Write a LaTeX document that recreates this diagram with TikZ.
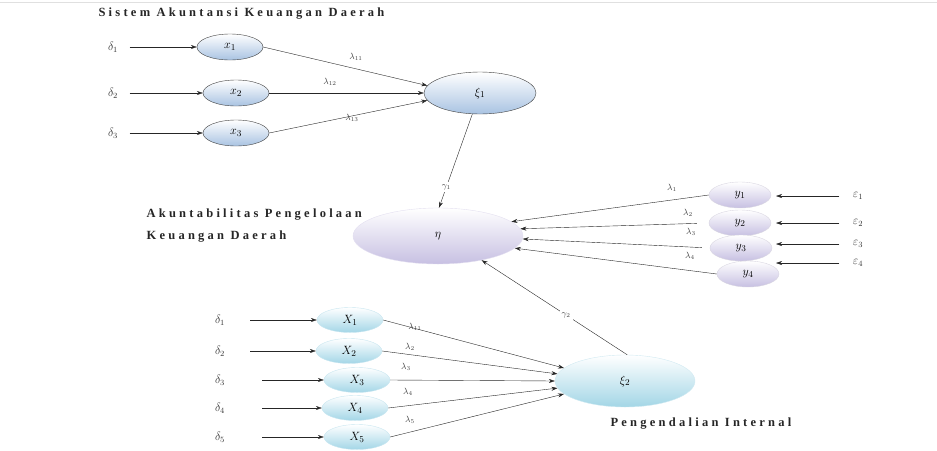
\documentclass[tikz,border=0pt]{standalone}
\usepackage{fontspec}
\setmainfont{Liberation Serif}
\newfontfamily\ttlfont[LetterSpace=26]{Liberation Serif}
\usetikzlibrary{positioning, arrows.meta, shapes.geometric}
\definecolor{semBlue}{HTML}{A9C3E2}
\definecolor{semPurple}{HTML}{C7C0E2}
\definecolor{semCyan}{HTML}{A3D6E6}
\tikzset{
  every node/.style={font=\small},
  arr/.style={-{Stealth[length=6pt,width=4pt]}, thin, black!85},
  ind/.style={ellipse, inner sep=0pt, minimum width=66pt, minimum height=26pt, font=\fontsize{13}{15}\selectfont},
  indBlue/.style={ind, top color=white, bottom color=semBlue, draw=black!75, thin},
  indPurple/.style={ind, minimum width=62pt, top color=white, bottom color=semPurple, draw=semPurple!80!black!40},
  indCyan/.style={ind, minimum height=25pt, top color=white, bottom color=semCyan, draw=semCyan!60},
  lat/.style={ellipse, inner sep=0pt, font=\fontsize{13}{15}\selectfont},
  err/.style={font=\fontsize{12}{14}\selectfont, text=black!80},
  lbl/.style={font=\small, text=black!75, inner sep=1pt},
  ttl/.style={font=\ttlfont\bfseries\fontsize{12.5}{22}\selectfont, align=left, text=black!85},
}

\begin{document}
\begin{tikzpicture}[x=1pt, y=-1pt]
  \useasboundingbox (0,0) rectangle (937,450);
  \draw[black!12] (0,2) -- (937,2);
  % Sistem Akuntansi Keuangan Daerah
  \node[ttl, anchor=west] (ttlXi1) at (95,14) {Sistem Akuntansi Keuangan Daerah};
  \node[lat, indBlue, minimum width=112pt, minimum height=42pt] (xi1) at (480,93) {$\xi_1$};
  \foreach \i/\y/\ex in {1/47/230, 2/93/236, 3/133/236} {
    \node[err] (d\i) at (113,\y) {$\delta_{\i}$};
    \node[indBlue] (x\i) at (\ex,\y) {$x_{\i}$};
    \draw[arr, shorten <=8pt] (d\i) -- (x\i);
  }
  \draw[arr] (x1.east) -- (xi1.172);
  \draw[arr] (x2.east) -- (xi1.180);
  \draw[arr] (x3.east) -- (xi1.188);
  \node[lbl] (l11) at (356,57) {$\lambda_{11}$};
  \node[lbl] (l12) at (330,82) {$\lambda_{12}$};
  \node[lbl] (l13) at (352,118) {$\lambda_{13}$};
  % Akuntabilitas Pengelolaan Keuangan Daerah
  \node[ttl, anchor=north west] (ttlEta) at (143,205) {Akuntabilitas Pengelolaan\\Keuangan Daerah};
  \node[lat, minimum width=170pt, minimum height=56pt, top color=white,
        bottom color=semPurple, draw=semPurple!50] (eta) at (438,236) {$\eta$};
  \draw[arr] (xi1.250) -- node[lbl, fill=white, pos=0.78, inner sep=2pt] (g1) {$\gamma_1$} (eta.88);
  \foreach \i/\x/\y/\ey in {1/740/195/196, 2/740/223/223, 3/741/248/244, 4/748/274/263} {
    \node[indPurple] (y\i) at (\x,\y) {$y_{\i}$};
    \node[err] (e\i) at (858,\ey) {$\varepsilon_{\i}$};
    \coordinate (ec\i) at (776,\ey);
    \draw[arr, shorten <=10pt] (e\i.west) -- (ec\i);
  }
  \draw[arr] (y1.west) -- (eta.11);
  \draw[arr, shorten <=12pt] (y2.west) -- (eta.5);
  \draw[arr, shorten <=8pt] (y3.west) -- (eta.-2);
  \draw[arr] (y4.west) -- (eta.-9);
  \node[lbl] (l1) at (672,188) {$\lambda_1$};
  \node[lbl] (l2) at (688,213) {$\lambda_2$};
  \node[lbl] (l3) at (691,232) {$\lambda_3$};
  \node[lbl] (l4) at (690,256) {$\lambda_4$};
  % Pengendalian Internal
  \node[lat, minimum width=140pt, minimum height=52pt, top color=white,
        bottom color=semCyan, draw=semCyan!50] (xi2) at (625,381) {$\xi_2$};
  \node[ttl, anchor=west] (ttlXi2) at (607,424) {Pengendalian Internal};
  \draw[arr] (xi2.85) -- node[lbl, fill=white, pos=0.42, inner sep=2pt] (g2) {$\gamma_2$} (eta.-29);
  \foreach \i/\y/\ex/\sx [count=\k from 0] in {1/320/350/250, 2/351/349/250, 3/380/357/262, 4/408/355/262, 5/437/357/262} {
    \node[err] (dd\i) at (220,\y) {$\delta_{\i}$};
    \node[indCyan] (xx\i) at (\ex,\y) {$X_{\i}$};
    \coordinate (dc\i) at (\sx,\y);
    \draw[arr] (dc\i) -- (xx\i);
    \pgfmathsetmacro\ang{168+6*\k}
    \draw[arr] (xx\i.east) -- (xi2.\ang);
  }
  \node[lbl] (m1) at (415,327) {$\lambda_{11}$};
  \node[lbl] (m2) at (410,347) {$\lambda_2$};
  \node[lbl] (m3) at (406,367) {$\lambda_3$};
  \node[lbl] (m4) at (408,392) {$\lambda_4$};
  \node[lbl] (m5) at (410,420) {$\lambda_5$};
\end{tikzpicture}
\end{document}
